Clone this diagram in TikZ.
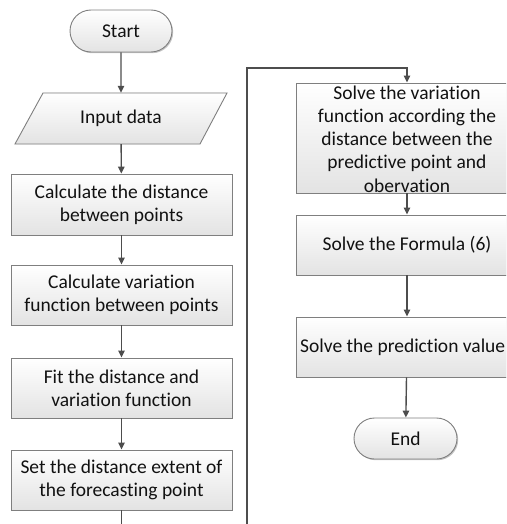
\documentclass[tikz,border=0pt]{standalone}
\usepackage{fontspec}
\setmainfont[Ligatures=NoCommon]{Carlito}
\usetikzlibrary{arrows.meta,shapes.misc,shadows}

\definecolor{linegray}{HTML}{4D4D4D}
\definecolor{edgegray}{HTML}{7F7F7F}
\definecolor{inkblack}{HTML}{111111}

\tikzset{
  every node/.style={font=\fontsize{19.5}{23.3}\selectfont, text=inkblack, align=center},
  softshade/.style={top color=white, bottom color=black!11, draw=edgegray, line width=0.9pt,
    drop shadow={shadow xshift=1.2pt, shadow yshift=-1.2pt, fill=black!45, opacity=0.5}},
  procbox/.style={rectangle, softshade, inner sep=0pt},
  terminal/.style={rounded rectangle, softshade, inner sep=0pt},
  flow/.style={draw=linegray, line width=1.4pt, -{Triangle[length=7pt,width=6.5pt]}},
}

\begin{document}
\begin{tikzpicture}[x=1pt, y=-1pt]
\useasboundingbox (0,0) rectangle (506,524);
\clip (0,0) rectangle (506,524);

% ---- left column ----
\node[terminal, minimum width=102pt, minimum height=42pt] (start) at (121,31) {Start};

% input parallelogram, drawn as a path behind its text node
\coordinate (pbl) at (15,144);
\coordinate (pbr) at (200,144);
\coordinate (ptr) at (227,93);
\coordinate (ptl) at (43,93);
\fill[black!45, opacity=0.5, xshift=1.2pt, yshift=-1.2pt] (pbl) -- (pbr) -- (ptr) -- (ptl) -- cycle;
\path[top color=white, bottom color=black!11, draw=edgegray, line width=0.9pt]
  (pbl) -- (pbr) -- (ptr) -- (ptl) -- cycle;
\node[minimum width=150pt, minimum height=51pt, inner sep=0pt] (input) at (121,118.5) {Input data};

\node[procbox, minimum width=221pt, minimum height=61pt] (b1) at (121.5,204.5)
  {Calculate the distance\\between points};
\node[procbox, minimum width=221pt, minimum height=60pt] (b2) at (121.5,295)
  {Calculate variation\\function between points};
\node[procbox, minimum width=221pt, minimum height=60pt] (b3) at (121.5,388)
  {Fit the distance and\\variation function};
\node[procbox, minimum width=221pt, minimum height=60pt] (b4) at (121.5,480)
  {Set the distance extent of\\the forecasting point};

% ---- right column ----
\node[procbox, minimum width=222pt, minimum height=110pt] (s5) at (407,138) {};
\node[inner sep=0pt] (s5t) at (407,139)
  {Solve the variation\\function according the\\distance between the\\predictive point and\\obervation};
\node[procbox, minimum width=222pt, minimum height=60pt] (s6) at (407,245)
  {Solve the Formula (6)};
\node[procbox, minimum width=222pt, minimum height=60pt] (s7) at (407,347) {};
\node[inner sep=0pt, anchor=west] (s7t) at (300,347) {Solve the prediction value};
\node[terminal, minimum width=103pt, minimum height=41pt] (end) at (405.5,438.5) {End};

% ---- connectors ----
\draw[flow] (start) -- (input);
\draw[flow] (input) -- (b1);
\draw[flow] (b1) -- (b2);
\draw[flow] (b2) -- (b3);
\draw[flow] (b3) -- (b4);

\coordinate (loopbottom) at (247,545);
\coordinate (looptop) at (407,68);
\draw[flow] (b4.south) |- (loopbottom) |- (looptop) -- (s5.north);

\draw[flow] (s5) -- (s6);
\draw[flow] (s6) -- (s7);
\draw[flow] (s7) -- (end);
\end{tikzpicture}
\end{document}
